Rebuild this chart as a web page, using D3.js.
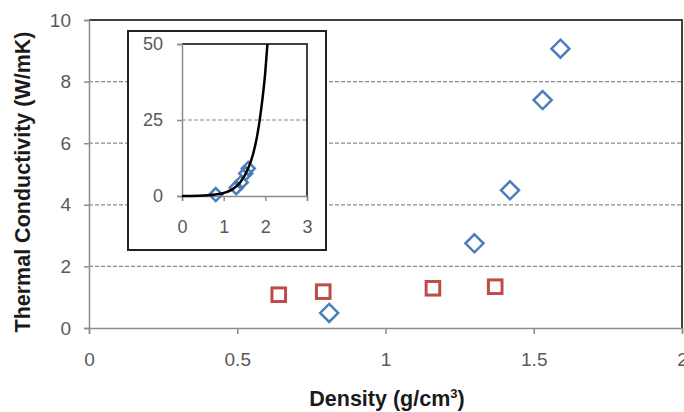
<!DOCTYPE html>
<html lang="en">
<head>
<meta charset="utf-8">
<title>Thermal conductivity vs density</title>
<script src="https://d3js.org/d3.v7.min.js"></script>
<style>
  body { margin: 0; background: #fff; }
  svg { font-family: "Liberation Sans", Arial, sans-serif; }
  .tick text { fill: #595959; }
</style>
</head>
<body>
<script>
// data
const blueDensity = [0.81, 1.30, 1.42, 1.53, 1.59];
const blueK = [0.49, 2.75, 4.47, 7.40, 9.07];
const redDensity = [0.64, 0.79, 1.16, 1.37];
const redK = [1.08, 1.18, 1.29, 1.34];
// fitted curve in the inset
const curveDensity = [0, 0.4, 0.8, 1.0, 1.2, 1.4, 1.6, 1.7, 1.8, 1.9, 2.0, 2.05];
const curveK = [0, 0.1, 0.5, 1.0, 2.1, 4.5, 9.5, 13.5, 19.5, 28.5, 41, 50];
const xTicks = [0, 0.5, 1, 1.5, 2];
const yTicks = [0, 2, 4, 6, 8, 10];
const insetXTicks = [0, 1, 2, 3];
const insetYTicks = [0, 25, 50];

const w = 684, h = 412;
const blue = "#4a7ebb", red = "#be4b48";
const axisGrey = "#8c8c8c", borderGrey = "#404040";

const svg = d3.select("body").append("svg")
    .attr("width", w).attr("height", h);

const x = d3.scaleLinear().domain([0, 2]).range([89, 682]);
const y = d3.scaleLinear().domain([0, 10]).range([328, 20]);

const diamond = r => `M0,${-r}L${r},0L0,${r}L${-r},0Z`;

// gridlines
svg.append("g").selectAll("line")
    .data(yTicks.filter(d => d > 0 && d < 10))
    .enter().append("line")
    .attr("x1", x(0)).attr("x2", x(2))
    .attr("y1", d => y(d)).attr("y2", d => y(d))
    .attr("stroke", axisGrey).attr("stroke-width", 1.2)
    .attr("stroke-dasharray", "4,2");

// top / right border
svg.append("path")
    .attr("d", `M${x(0)},${y(10)}H${x(2)}V${y(0)}`)
    .attr("fill", "none").attr("stroke", borderGrey).attr("stroke-width", 2);

// axes
const yAxis = d3.axisLeft(y).tickValues(yTicks).tickSize(5).tickPadding(13);
const xAxis = d3.axisBottom(x).tickValues(xTicks).tickSize(6).tickPadding(19)
    .tickFormat(d3.format("~g"));

const gy = svg.append("g").attr("transform", `translate(${x(0)},0)`).call(yAxis);
const gx = svg.append("g").attr("transform", `translate(0,${y(0)})`).call(xAxis);
[gx, gy].forEach(g => {
    g.select(".domain").attr("stroke", axisGrey).attr("stroke-width", 1.5);
    g.selectAll(".tick line").attr("stroke", axisGrey).attr("stroke-width", 1.5);
    g.selectAll(".tick text").attr("font-size", 19);
});

// main markers
svg.append("g").selectAll("rect")
    .data(redDensity.map((d, i) => [d, redK[i]]))
    .enter().append("rect")
    .attr("x", d => x(d[0]) - 6.8).attr("y", d => y(d[1]) - 6.8)
    .attr("width", 13.6).attr("height", 13.6)
    .attr("fill", "none").attr("stroke", red).attr("stroke-width", 3);

svg.append("g").selectAll("path")
    .data(blueDensity.map((d, i) => [d, blueK[i]]))
    .enter().append("path")
    .attr("transform", d => `translate(${x(d[0])},${y(d[1])})`)
    .attr("d", diamond(9))
    .attr("fill", "none").attr("stroke", blue).attr("stroke-width", 2.5);

// axis titles
svg.append("text")
    .attr("transform", `translate(30,182) rotate(-90)`)
    .attr("text-anchor", "middle").attr("font-weight", "bold").attr("font-size", 21.5)
    .attr("fill", "#1a1a1a")
    .text("Thermal Conductivity (W/mK)");

const xt = svg.append("text")
    .attr("x", 387).attr("y", 406)
    .attr("text-anchor", "middle").attr("font-weight", "bold").attr("font-size", 21.5)
    .attr("fill", "#1a1a1a");
xt.append("tspan").text("Density (g/cm");
xt.append("tspan").attr("font-size", 13).attr("dy", -8).text("3");
xt.append("tspan").attr("dy", 8).text(")");

// ---- inset ----
const inset = svg.append("g");
inset.append("rect")
    .attr("x", 128).attr("y", 31).attr("width", 198).attr("height", 219)
    .attr("fill", "#fff").attr("stroke", "#222").attr("stroke-width", 2);

const ix = d3.scaleLinear().domain([0, 3]).range([182, 307]);
const iy = d3.scaleLinear().domain([0, 50]).range([196, 44]);

inset.append("line")
    .attr("x1", ix(0)).attr("x2", ix(3))
    .attr("y1", iy(25)).attr("y2", iy(25))
    .attr("stroke", axisGrey).attr("stroke-width", 1.2)
    .attr("stroke-dasharray", "4,2");

inset.append("path")
    .attr("d", `M${ix(0)},${iy(50)}H${ix(3)}V${iy(0)}`)
    .attr("fill", "none").attr("stroke", borderGrey).attr("stroke-width", 2);

const igy = inset.append("g").attr("transform", `translate(${ix(0)},0)`)
    .call(d3.axisLeft(iy).tickValues(insetYTicks).tickSize(5).tickPadding(14));
const igx = inset.append("g").attr("transform", `translate(0,${iy(0)})`)
    .call(d3.axisBottom(ix).tickValues(insetXTicks).tickSize(5).tickPadding(19)
        .tickFormat(d3.format("~g")));
[igx, igy].forEach(g => {
    g.select(".domain").attr("stroke", axisGrey).attr("stroke-width", 1.5);
    g.selectAll(".tick line").attr("stroke", axisGrey).attr("stroke-width", 1.5);
    g.selectAll(".tick text").attr("font-size", 18);
});

inset.append("g").selectAll("path")
    .data(blueDensity.map((d, i) => [d, blueK[i]]))
    .enter().append("path")
    .attr("transform", d => `translate(${ix(d[0])},${iy(d[1])})`)
    .attr("d", diamond(6.5))
    .attr("fill", "none").attr("stroke", blue).attr("stroke-width", 2.5);

const line = d3.line()
    .x(d => ix(d[0])).y(d => iy(d[1]))
    .curve(d3.curveMonotoneX);
inset.append("path")
    .datum(curveDensity.map((d, i) => [d, curveK[i]]))
    .attr("d", line)
    .attr("fill", "none").attr("stroke", "#000").attr("stroke-width", 2.5);
</script>
</body>
</html>
